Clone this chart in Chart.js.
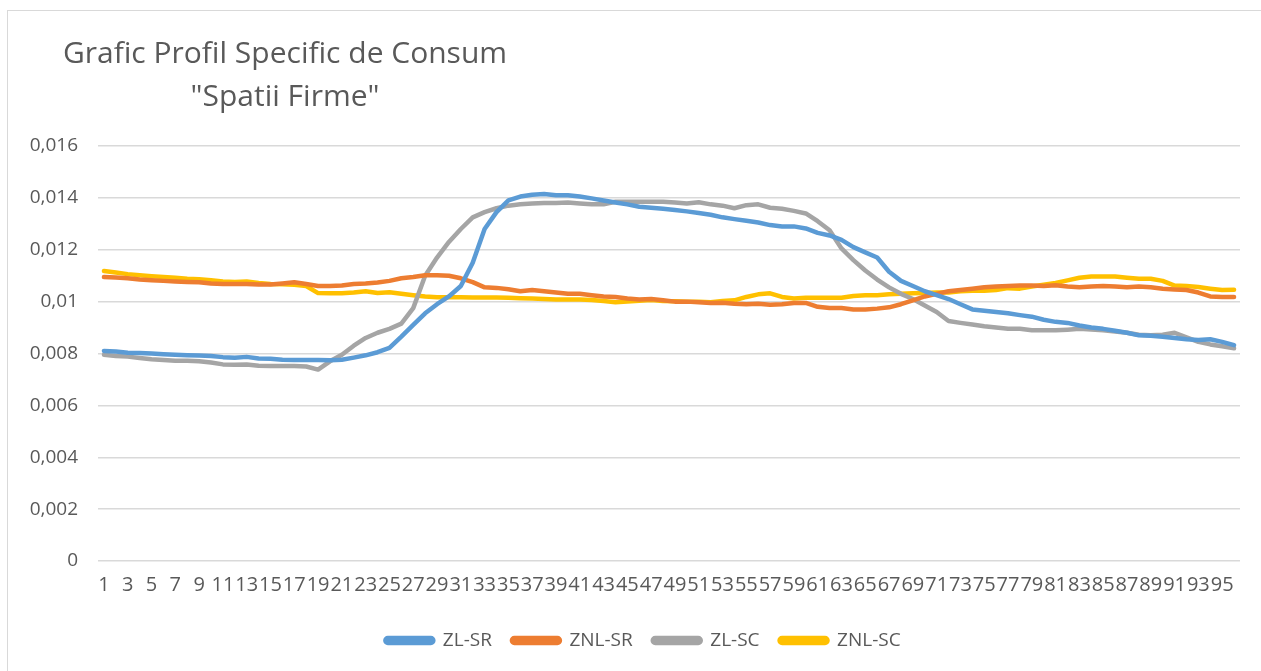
<!DOCTYPE html>
<html>
<head>
<meta charset="utf-8">
<script src="https://cdn.jsdelivr.net/npm/chart.js@4.4.1/dist/chart.umd.min.js"></script>
<style>
  body { margin: 0; background: #fff; }
  #wrap { position: relative; width: 1261px; height: 671px; overflow: hidden; }
  #frame { position: absolute; left: 7px; top: 10px; width: 1300px; height: 700px; border: 1px solid #d9d9d9; }
  #titlu {
    position: absolute; left: 35px; top: 30px; width: 500px;
    text-align: center; font-family: "Open Sans", sans-serif;
    font-size: 30px; line-height: 43px; color: #595959;
  }
  #grafic { position: absolute; left: 0; top: 0; width: 1261px; height: 671px; }
</style>
</head>
<body>
<div id="wrap">
  <div id="frame"></div>
  <div id="grafic"><canvas id="profilChart"></canvas></div>
  <div id="titlu">Grafic Profil Specific de Consum<br>"Spatii Firme"</div>
</div>
<script>
// intervale 1..96
const intervale = Array.from({ length: 96 }, (_, i) => String(i + 1));

const zlSR = [
  0.00810, 0.00808, 0.00803, 0.00802, 0.00800, 0.00797, 0.00795, 0.00793, 0.00792, 0.00790,
  0.00786, 0.00784, 0.00787, 0.00781, 0.00780, 0.00776, 0.00775, 0.00775, 0.00775, 0.00774,
  0.00776, 0.00784, 0.00793, 0.00805, 0.00822, 0.00865, 0.00910, 0.00955, 0.00990, 0.01020,
  0.01060, 0.01150, 0.01280, 0.01345, 0.01390, 0.01405, 0.01412, 0.01415, 0.01410, 0.01410,
  0.01405, 0.01398, 0.01390, 0.01382, 0.01375, 0.01366, 0.01362, 0.01358, 0.01353, 0.01348,
  0.01342, 0.01335, 0.01325, 0.01318, 0.01312, 0.01305, 0.01295, 0.01290, 0.01290, 0.01282,
  0.01265, 0.01255, 0.01238, 0.01210, 0.01190, 0.01170, 0.01115, 0.01080, 0.01060, 0.01040,
  0.01025, 0.01010, 0.00990, 0.00970, 0.00965, 0.00960, 0.00955, 0.00948, 0.00942, 0.00930,
  0.00922, 0.00918, 0.00908, 0.00900, 0.00895, 0.00888, 0.00880, 0.00870, 0.00868, 0.00865,
  0.00860, 0.00855, 0.00852, 0.00855, 0.00845, 0.00832
];

const znlSR = [
  0.01095, 0.01093, 0.01090, 0.01085, 0.01082, 0.01080, 0.01078, 0.01076, 0.01075, 0.01070,
  0.01068, 0.01068, 0.01068, 0.01066, 0.01066, 0.01070, 0.01075, 0.01068, 0.01060, 0.01060,
  0.01062, 0.01068, 0.01070, 0.01074, 0.01080, 0.01090, 0.01095, 0.01102, 0.01102, 0.01100,
  0.01090, 0.01075, 0.01055, 0.01053, 0.01048, 0.01040, 0.01045, 0.01040, 0.01035, 0.01030,
  0.01030, 0.01025, 0.01020, 0.01018, 0.01012, 0.01008, 0.01010, 0.01005, 0.01000, 0.01000,
  0.00998, 0.00995, 0.00996, 0.00992, 0.00990, 0.00992, 0.00988, 0.00990, 0.00995, 0.00995,
  0.00980, 0.00975, 0.00975, 0.00970, 0.00970, 0.00973, 0.00978, 0.00990, 0.01005, 0.01020,
  0.01030, 0.01040, 0.01045, 0.01050, 0.01055, 0.01058, 0.01060, 0.01062, 0.01062, 0.01060,
  0.01063, 0.01058, 0.01055, 0.01058, 0.01060, 0.01058, 0.01055, 0.01058, 0.01055, 0.01050,
  0.01047, 0.01045, 0.01035, 0.01020, 0.01018, 0.01018
];

const zlSC = [
  0.00795, 0.00790, 0.00788, 0.00783, 0.00778, 0.00775, 0.00772, 0.00772, 0.00770, 0.00765,
  0.00758, 0.00757, 0.00758, 0.00753, 0.00752, 0.00752, 0.00752, 0.00750, 0.00738, 0.00770,
  0.00795, 0.00830, 0.00860, 0.00880, 0.00895, 0.00915, 0.00975, 0.01100, 0.01170, 0.01230,
  0.01280, 0.01325, 0.01345, 0.01360, 0.01370, 0.01375, 0.01378, 0.01380, 0.01380, 0.01382,
  0.01378, 0.01375, 0.01375, 0.01385, 0.01385, 0.01385, 0.01385, 0.01385, 0.01382, 0.01378,
  0.01383, 0.01375, 0.01370, 0.01360, 0.01372, 0.01375, 0.01362, 0.01358, 0.01350, 0.01340,
  0.01310, 0.01275, 0.01205, 0.01160, 0.01120, 0.01085, 0.01055, 0.01030, 0.01010, 0.00985,
  0.00960, 0.00925, 0.00918, 0.00912, 0.00905, 0.00900, 0.00895, 0.00895, 0.00890, 0.00890,
  0.00890, 0.00892, 0.00895, 0.00893, 0.00890, 0.00885, 0.00880, 0.00872, 0.00870, 0.00872,
  0.00880, 0.00862, 0.00845, 0.00835, 0.00828, 0.00820
];

const znlSC = [
  0.01118, 0.01112, 0.01106, 0.01102, 0.01098, 0.01095, 0.01092, 0.01088, 0.01086, 0.01082,
  0.01078, 0.01076, 0.01078, 0.01072, 0.01068, 0.01067, 0.01065, 0.01060, 0.01033, 0.01032,
  0.01032, 0.01035, 0.01040, 0.01033, 0.01036, 0.01030, 0.01025, 0.01020, 0.01017, 0.01017,
  0.01017, 0.01016, 0.01016, 0.01016, 0.01015, 0.01013, 0.01012, 0.01010, 0.01008, 0.01008,
  0.01008, 0.01006, 0.01002, 0.00998, 0.01000, 0.01003, 0.01006, 0.01002, 0.01001, 0.01000,
  0.01000, 0.00998, 0.01002, 0.01005, 0.01018, 0.01028, 0.01032, 0.01018, 0.01012, 0.01015,
  0.01015, 0.01015, 0.01015, 0.01022, 0.01025, 0.01025, 0.01028, 0.01030, 0.01032, 0.01033,
  0.01035, 0.01035, 0.01040, 0.01042, 0.01042, 0.01045, 0.01052, 0.01050, 0.01058, 0.01065,
  0.01072, 0.01082, 0.01092, 0.01097, 0.01097, 0.01097, 0.01092, 0.01088, 0.01088, 0.01080,
  0.01062, 0.01060, 0.01056, 0.01050, 0.01045, 0.01046
];

const yMax = 0.016;
const yPas = 0.002;

Chart.defaults.font.family = "'Open Sans', sans-serif";
Chart.defaults.color = "#595959";

function serie(nume, valori, culoare) {
  return {
    label: nume,
    data: valori,
    borderColor: culoare,
    backgroundColor: culoare,
    borderWidth: 4.5,
    pointRadius: 0,
    borderJoinStyle: "round",
    borderCapStyle: "round",
    tension: 0,
  };
}

// format ca in Excel: 0,01 / 0,012 / 0
function formatY(v) {
  if (v === 0) return "0";
  return parseFloat(v.toFixed(3)).toString().replace(".", ",");
}

// legenda mutata putin spre dreapta, ca in Excel
const mutaLegenda = {
  id: "mutaLegenda",
  afterLayout(chart) {
    const lg = chart.legend;
    if (!lg) return;
    lg.left += 23;
    lg.right += 23;
  },
};

const ctx = document.getElementById("profilChart").getContext("2d");

new Chart(ctx, {
  type: "line",
  data: {
    labels: intervale,
    datasets: [
      serie("ZL-SR", zlSR, "#5B9BD5"),
      serie("ZNL-SR", znlSR, "#ED7D31"),
      serie("ZL-SC", zlSC, "#A5A5A5"),
      serie("ZNL-SC", znlSC, "#FFC000"),
    ],
  },
  plugins: [mutaLegenda],
  options: {
    responsive: true,
    maintainAspectRatio: false,
    animation: false,
    layout: {
      padding: { top: 146, right: 21, bottom: 11, left: 0 },
    },
    plugins: {
      tooltip: { enabled: false },
      title: { display: false },
      legend: {
        position: "bottom",
        labels: {
          boxWidth: 48,
          boxHeight: 5,
          useBorderRadius: true,
          borderRadius: 2.5,
          padding: 20,
          color: "#595959",
          font: { size: 19 },
        },
      },
    },
    scales: {
      x: {
        offset: true,
        grid: { display: false, drawTicks: false },
        border: { display: false },
        afterFit: (scale) => { scale.height = 50; },
        ticks: {
          autoSkip: false,
          maxRotation: 0,
          minRotation: 0,
          padding: 12,
          color: "#595959",
          font: { size: 20 },
          callback: (val, idx) => (idx % 2 === 0 ? intervale[idx] : ""),
        },
      },
      y: {
        min: 0,
        max: yMax,
        afterFit: (scale) => { scale.width = 98; },
        grid: { color: "#d9d9d9", lineWidth: 1.5, drawTicks: false },
        border: { display: false },
        ticks: {
          stepSize: yPas,
          padding: 20,
          color: "#595959",
          font: { size: 19 },
          callback: formatY,
        },
      },
    },
  },
});
</script>
</body>
</html>
